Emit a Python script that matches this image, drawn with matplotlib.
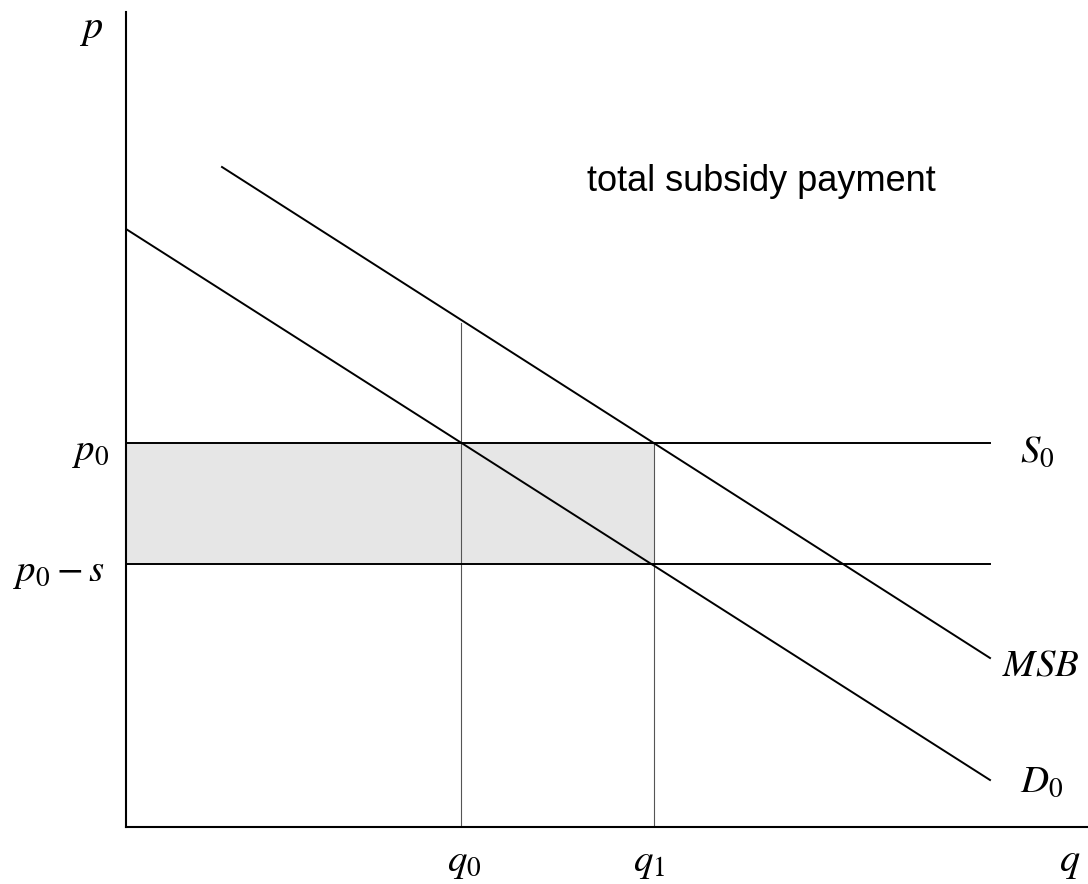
import matplotlib
matplotlib.use("Agg")
import matplotlib.pyplot as plt

plt.rcParams["mathtext.fontset"] = "stix"

# quantity / price levels (axis units)
q0, q1 = 3.35, 5.28
p0, p0_s = 3.84, 2.63
q_end = 8.64

# curves: endpoints
demand_q = [0.0, 8.64]
demand_p = [5.98, 0.47]
msb_q = [0.96, 8.64]
msb_p = [6.60, 1.69]
msb_at_q0 = 5.04

x_max, y_max = 9.62, 8.27
y_axis_top = 8.15

fig = plt.figure(figsize=(10.88, 8.84), dpi=100)
ax = fig.add_axes([126 / 1088, 57 / 884, 962 / 1088, 827 / 884])
ax.set_xlim(0, x_max)
ax.set_ylim(0, y_max)
ax.axis("off")

# shaded subsidy rectangle
ax.fill_between([0, q1], p0_s, p0, color="#e6e6e6", lw=0, zorder=1)

# guide lines at q0, q1
ax.plot([q0, q0], [0, msb_at_q0], color="#555555", lw=0.8, zorder=2)
ax.plot([q1, q1], [0, p0], color="#555555", lw=0.8, zorder=2)

# horizontal price lines
ax.plot([0, q_end], [p0, p0], color="black", lw=1.4, zorder=3)
ax.plot([0, q_end], [p0_s, p0_s], color="black", lw=1.4, zorder=3)

# demand and MSB
ax.plot(demand_q, demand_p, color="black", lw=1.4, zorder=3)
ax.plot(msb_q, msb_p, color="black", lw=1.4, zorder=3)

# axes
ax.plot([0, 0], [0, y_axis_top], color="black", lw=1.5, clip_on=False, zorder=4)
ax.plot([0, x_max], [0, 0], color="black", lw=1.5, clip_on=False, zorder=4)

fs = 28
ax.text(-0.35, 7.99, "$p$", fontsize=fs + 1, ha="center", va="center")
ax.text(-0.16, 3.76, "$p_0$", fontsize=fs, ha="right", va="center")
ax.text(-0.21, 2.55, r"$p_0 - s$", fontsize=fs, ha="right", va="center")
ax.text(q0 + 0.03, -0.35, "$q_0$", fontsize=fs, ha="center", va="center")
ax.text(q1 - 0.05, -0.35, "$q_1$", fontsize=fs, ha="center", va="center")
ax.text(9.44, -0.34, "$q$", fontsize=fs + 1, ha="center", va="center")
ax.text(8.94, 3.76, "$S_0$", fontsize=fs, ha="left", va="center")
ax.text(8.76, 1.62, "$MSB$", fontsize=fs, ha="left", va="center")
ax.text(8.94, 0.46, "$D_0$", fontsize=fs, ha="left", va="center")

ax.text(4.61, 6.36, "total subsidy payment", fontsize=26,
        family="Liberation Sans", ha="left", va="baseline")

fig.savefig("out.png", dpi=100)
